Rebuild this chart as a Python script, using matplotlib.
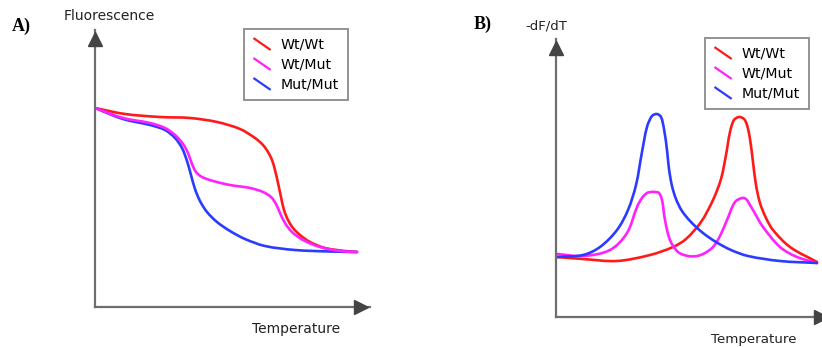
import matplotlib
matplotlib.use("Agg")
import numpy as np
import matplotlib.pyplot as plt
from matplotlib.lines import Line2D
from matplotlib.legend_handler import HandlerBase
from matplotlib.path import Path
from matplotlib.patches import PathPatch

# ---------------- data (arbitrary units) ----------------
series_names = ["Wt/Wt", "Wt/Mut", "Mut/Mut"]
series_colors = ["#ff1a1a", "#ff22ff", "#2b3bff"]

# Panel A: fluorescence melting curves
a_wt_x = [0, 30, 65, 95, 122, 145, 160, 168, 173, 177, 180, 183, 186, 189, 193, 198, 205, 215, 230, 250, 262]
a_wt_y = [199, 193, 190, 189, 185, 178, 169, 162, 155, 147, 137, 124, 110, 97, 87, 79, 72, 65, 59, 56, 55]
a_het_x = [0, 28, 55, 70, 80, 88, 93, 97, 101, 107, 118, 135, 155, 168, 176, 181, 185, 190, 197, 208, 225, 245, 262]
a_het_y = [199, 189, 184, 179, 172, 163, 154, 143, 135, 130, 126, 122, 119, 115, 110, 103, 94, 84, 75, 67, 60, 56, 55]
a_mut_x = [0, 28, 55, 70, 80, 87, 92, 96, 100, 105, 112, 122, 135, 150, 170, 200, 235, 262]
a_mut_y = [199, 188, 182, 177, 169, 159, 146, 132, 118, 106, 95, 85, 76, 68, 61, 57, 55.5, 55]

# Panel B: -dF/dT derivative curves
b_wt_x = [1, 27, 61, 94, 117, 130, 145, 157, 165, 170, 174, 178, 183, 188, 191, 194, 197, 200, 204, 210, 217, 234, 261]
b_wt_y = [60, 58, 56, 62, 70, 78, 95, 117, 138, 162, 185, 197, 200, 198, 192, 178, 155, 132, 114, 99, 87, 70, 55]
b_het_x = [1, 27, 54, 71, 81, 86, 91, 95, 99, 103, 106, 109, 114, 122, 132, 141, 149, 157, 164, 171, 179, 186, 190, 194, 201, 207, 224, 241, 261]
b_het_y = [63, 61, 67, 84, 110, 119, 124, 125, 125, 124, 117, 97, 77, 65, 61, 61, 64, 70, 81, 97, 115, 119, 118, 112, 100, 90, 70, 60, 54]
b_mut_x = [1, 27, 44, 61, 72, 80, 86, 91, 96, 101, 105, 108, 111, 113, 116, 120, 126, 135, 147, 160, 175, 192, 224, 261]
b_mut_y = [60, 62, 70, 87, 107, 132, 165, 190, 201, 203, 200, 188, 167, 148, 131, 118, 106, 95, 84, 75, 67, 61, 56, 54]

panel_labels = ["A)", "B)"]
y_labels = ["Fluorescence", "-dF/dT"]
x_label = "Temperature"

# ---------------- figure ----------------
W, H = 822, 347
fig = plt.figure(figsize=(W / 100, H / 100), dpi=100)


def px_axes(left, bottom_px, right, top_px):
    return fig.add_axes([left / W, 1 - bottom_px / H, (right - left) / W, (bottom_px - top_px) / H])


AXIS_COLOR = "#6e6e6e"
ARROW_COLOR = "#444444"


def smooth_path(x, y):
    """Cubic Bezier path through the given points, chord-length tangents."""
    p = np.column_stack([x, y]).astype(float)
    n = len(p)
    d = np.hypot(*(p[1:] - p[:-1]).T)
    m = np.zeros_like(p)
    for i in range(n):
        if i == 0:
            m[i] = (p[1] - p[0]) / d[0]
        elif i == n - 1:
            m[i] = (p[-1] - p[-2]) / d[-1]
        else:
            m[i] = (p[i + 1] - p[i - 1]) / (d[i - 1] + d[i])
    verts = [p[0]]
    codes = [Path.MOVETO]
    for i in range(n - 1):
        c1 = p[i] + m[i] * d[i] / 3.0
        c2 = p[i + 1] - m[i + 1] * d[i] / 3.0
        verts += [c1, c2, p[i + 1]]
        codes += [Path.CURVE4] * 3
    return Path(verts, codes)


def draw_curve(ax, x, y, color):
    patch = PathPatch(smooth_path(x, y), facecolor="none", edgecolor=color,
                      lw=1.9, capstyle="round", joinstyle="round")
    ax.add_patch(patch)
    return Line2D([], [], color=color)


class DiagHandler(HandlerBase):
    def create_artists(self, legend, orig_handle, xdescent, ydescent,
                       width, height, fontsize, trans):
        x0, y0 = -xdescent, -ydescent
        line = Line2D([x0 + width * 0.05, x0 + width * 0.95],
                      [y0 + height * 1.05, y0 - height * 0.15],
                      color=orig_handle.get_color(), lw=1.6,
                      solid_capstyle="butt")
        line.set_transform(trans)
        return [line]


def style_axes(ax, xmax, ymax):
    ax.set_xlim(0, xmax)
    ax.set_ylim(0, ymax)
    for s in ["top", "right"]:
        ax.spines[s].set_visible(False)
    for s in ["left", "bottom"]:
        ax.spines[s].set_color(AXIS_COLOR)
        ax.spines[s].set_linewidth(1.6)
    ax.set_xticks([])
    ax.set_yticks([])
    ax.patch.set_alpha(0)
    ax.plot([0], [ymax - 9], marker="^", ms=10, color=ARROW_COLOR, clip_on=False, zorder=5)
    ax.plot([xmax - 9], [0], marker=">", ms=10, color=ARROW_COLOR, clip_on=False, zorder=5)


def add_legend(handles, x_px, y_px):
    leg = fig.legend(handles=handles, labels=series_names, loc="upper left",
                     bbox_to_anchor=(x_px / W, 1 - y_px / H), frameon=True, fancybox=False,
                     edgecolor="#777777", fontsize=10.2, handler_map={Line2D: DiagHandler()},
                     handlelength=1.35, handletextpad=0.65, borderpad=0.6, labelspacing=0.42,
                     borderaxespad=0)
    leg.get_frame().set_linewidth(1.4)
    return leg


# Panel A
axA = px_axes(95, 307, 370, 30)
style_axes(axA, 275, 277)
hA = [draw_curve(axA, x, y, c) for x, y, c in
      zip([a_wt_x, a_mut_x, a_het_x], [a_wt_y, a_mut_y, a_het_y],
          [series_colors[0], series_colors[2], series_colors[1]])]
hA = [hA[0], hA[2], hA[1]]
add_legend(hA, 244, 29)

# Panel B
axB = px_axes(556, 317, 830, 39)
style_axes(axB, 274, 278)
hB = [draw_curve(axB, x, y, c) for x, y, c in
      zip([b_wt_x, b_het_x, b_mut_x], [b_wt_y, b_het_y, b_mut_y], series_colors)]
add_legend(hB, 705, 38)

# texts
fig.text(12 / W, 1 - 26 / H, panel_labels[0], fontsize=13, fontweight="bold",
         family="Liberation Serif", va="center", ha="left")
fig.text(474 / W, 1 - 24 / H, panel_labels[1], fontsize=13, fontweight="bold",
         family="Liberation Serif", va="center", ha="left")
fig.text(109 / W, 1 - 16 / H, y_labels[0], fontsize=10, ha="center", va="center", color="#222222")
fig.text(546 / W, 1 - 26 / H, y_labels[1], fontsize=9.5, ha="center", va="center", color="#222222")
fig.text(296 / W, 1 - 329 / H, x_label, fontsize=10, ha="center", va="center", color="#222222")
fig.text(754 / W, 1 - 340 / H, x_label, fontsize=9.6, ha="center", va="center", color="#222222")

fig.savefig("out.png", dpi=100)
